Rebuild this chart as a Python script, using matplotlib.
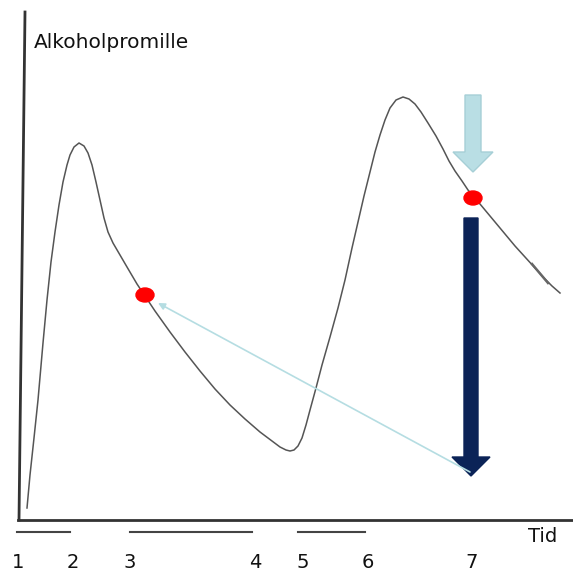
import matplotlib.pyplot as plt
from matplotlib.patches import Ellipse

# curve (pixel-like units, y grows downward)
curve_x = [27, 30, 34, 38, 43, 47, 51, 55, 59, 63, 67, 70, 74, 79, 84, 88, 92, 96,
           100, 104, 108, 113, 120, 127, 137, 145, 155, 170, 185, 200, 215, 230, 245,
           260, 272, 280, 286, 290, 294, 298, 302, 306, 310, 316, 322, 330, 338, 345,
           352, 358, 364, 370, 375, 380, 385, 390, 396, 403, 409, 415, 421, 428, 436,
           443, 449, 455, 462, 468, 475, 485, 495, 505, 515, 525, 535, 545, 552, 560]
curve_y = [508, 475, 438, 400, 343, 300, 262, 232, 205, 182, 165, 155, 147, 143, 146,
           153, 165, 182, 200, 218, 232, 243, 255, 267, 284, 296, 311, 332, 352, 371,
           389, 405, 419, 432, 441, 447, 450, 451, 450, 446, 438, 425, 410, 388, 365,
           337, 308, 280, 248, 222, 196, 172, 152, 135, 120, 108, 100, 97, 99, 104,
           112, 123, 136, 149, 161, 171, 181, 190, 198, 210, 222, 234, 246, 257, 268,
           279, 286, 293]

dots_x = [145, 473]
dots_y = [295, 198]

segments = [(17, 70), (130, 252), (298, 365)]
tick_x = [18, 73, 130, 255, 303, 368, 472]
tick_labels = ["1", "2", "3", "4", "5", "6", "7"]

fig = plt.figure(figsize=(5.73, 5.72), dpi=100)
ax = fig.add_axes([0, 0, 1, 1])
ax.set_xlim(0, 573)
ax.set_ylim(572, 0)
ax.axis("off")

# axes lines
ax.plot([25, 19], [12, 520], color="#333333", lw=2)
ax.plot([18, 573], [520, 520], color="#333333", lw=2)

ax.plot(curve_x, curve_y, color="#555555", lw=1.1, solid_joinstyle="round")
# slightly doubled stroke near the end of the curve
ax.plot([532, 548], [264, 283], color="#666666", lw=1.8)

# thin pointer arrow
ax.annotate("", xy=(158, 303), xytext=(470, 472),
            arrowprops=dict(arrowstyle="-|>", color="#b5dde2", lw=1.2,
                            mutation_scale=10, shrinkA=0, shrinkB=0))

# big arrows
ax.arrow(473, 95, 0, 77, width=16, head_width=40, head_length=20,
         length_includes_head=True, fc="#b9dee4", ec="#a6cfd6", lw=1)
ax.arrow(471, 218, 0, 258, width=14, head_width=38, head_length=19,
         length_includes_head=True, fc="#0b2357", ec="#0b2357", lw=1)

for x, y in zip(dots_x, dots_y):
    ax.add_patch(Ellipse((x, y), 18, 14, color="#ff0000", zorder=5))

for a, b in segments:
    ax.plot([a, b], [532, 532], color="#444444", lw=1.5)

for x, t in zip(tick_x, tick_labels):
    ax.text(x, 562, t, ha="center", va="center", fontsize=14, color="#111111")

ax.text(528, 537, "Tid", ha="left", va="center", fontsize=14, color="#111111")
ax.text(34, 43, "Alkoholpromille", ha="left", va="center", fontsize=14.5,
        color="#111111")

fig.savefig("out.png", dpi=100)
